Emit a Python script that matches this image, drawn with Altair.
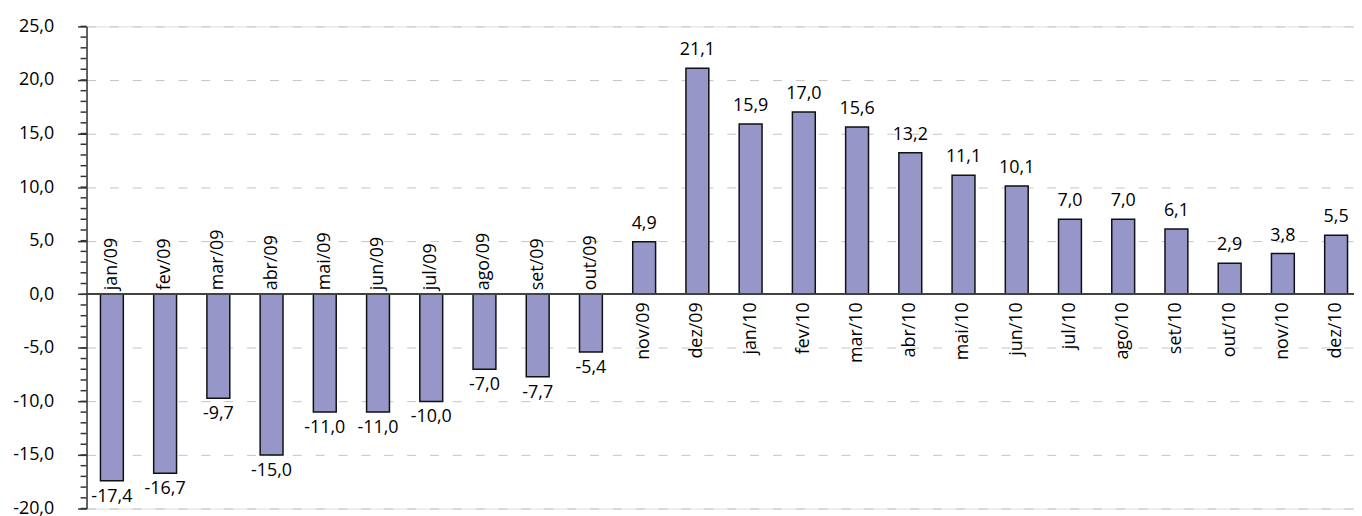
import altair as alt
import pandas as pd

months = ["jan/09", "fev/09", "mar/09", "abr/09", "mai/09", "jun/09", "jul/09", "ago/09",
          "set/09", "out/09", "nov/09", "dez/09", "jan/10", "fev/10", "mar/10", "abr/10",
          "mai/10", "jun/10", "jul/10", "ago/10", "set/10", "out/10", "nov/10", "dez/10"]
values = [-17.4, -16.7, -9.7, -15.0, -11.0, -11.0, -10.0, -7.0,
          -7.7, -5.4, 4.9, 21.1, 15.9, 17.0, 15.6, 13.2,
          11.1, 10.1, 7.0, 7.0, 6.1, 2.9, 3.8, 5.5]
major_ticks = [-20, -15, -10, -5, 0, 5, 10, 15, 20, 25]
minor_ticks = [v for v in range(-20, 26)]

df = pd.DataFrame({"mes": months, "valor": values})
ticks_df = pd.DataFrame({"valor": minor_ticks})

FONT = "Open Sans"
fmt = "replace(replace(format(datum.valor, '.1f'), '.', ','), '\u2212', '-')"

xenc = alt.X("mes:N", sort=months, axis=None,
             scale=alt.Scale(paddingInner=0.5704, paddingOuter=0.1915, align=0.683))
yscale = alt.Scale(domain=[-20, 25], nice=False, zero=False)
yaxis = alt.Axis(values=major_ticks, tickSize=9, tickWidth=1.5, tickColor="#333333",
                 domainColor="#333333", domainWidth=1.5,
                 labelExpr="replace(replace(format(datum.value, '.1f'), '.', ','), '\u2212', '-')",
                 labelFont=FONT, labelFontSize=18, labelColor="#000000", labelPadding=24,
                 grid=True, gridColor="#c4c4c4", gridDash=[9, 14], gridWidth=1)
yenc = alt.Y("valor:Q", scale=yscale, title=None, axis=yaxis)

base = alt.Chart(df).transform_calculate(label=fmt)

bars = base.mark_bar(color="#9696c8", stroke="#111111", strokeWidth=1.5).encode(x=xenc, y=yenc)

zero = base.mark_rule(color="#444444", strokeWidth=1).encode(y=alt.datum(0))

minor = alt.Chart(ticks_df).mark_rule(color="#333333", strokeWidth=1.5).encode(
    y=yenc, x=alt.value(-6), x2=alt.value(0),
)

pos_vals = base.transform_filter("datum.valor >= 0").mark_text(
    font=FONT, fontSize=18, color="#000000", baseline="alphabetic", dy=-13
).encode(x=xenc, y=yenc, text="label:N")

neg_vals = base.transform_filter("datum.valor < 0").mark_text(
    font=FONT, fontSize=18, color="#000000", baseline="top", dy=7
).encode(x=xenc, y=yenc, text="label:N")

neg_cats = base.transform_filter("datum.valor < 0").mark_text(
    font=FONT, fontSize=18, color="#000000", angle=270, align="left", baseline="middle", dx=4
).encode(x=xenc, y=alt.datum(0), text="mes:N")

pos_cats = base.transform_filter("datum.valor >= 0").mark_text(
    font=FONT, fontSize=18, color="#000000", angle=270, align="right", baseline="middle", dx=-8
).encode(x=xenc, y=alt.datum(0), text="mes:N")

chart = alt.layer(bars, zero, minor, pos_vals, neg_vals, neg_cats, pos_cats).properties(
    width=1275, height=485,
    padding={"left": 79, "top": 17, "right": 0, "bottom": 6},
    autosize=alt.AutoSizeParams(type="none"),
).configure_view(stroke=None).configure(background="white")

chart.save("out.html", embed_options={"renderer": "svg", "actions": False})
